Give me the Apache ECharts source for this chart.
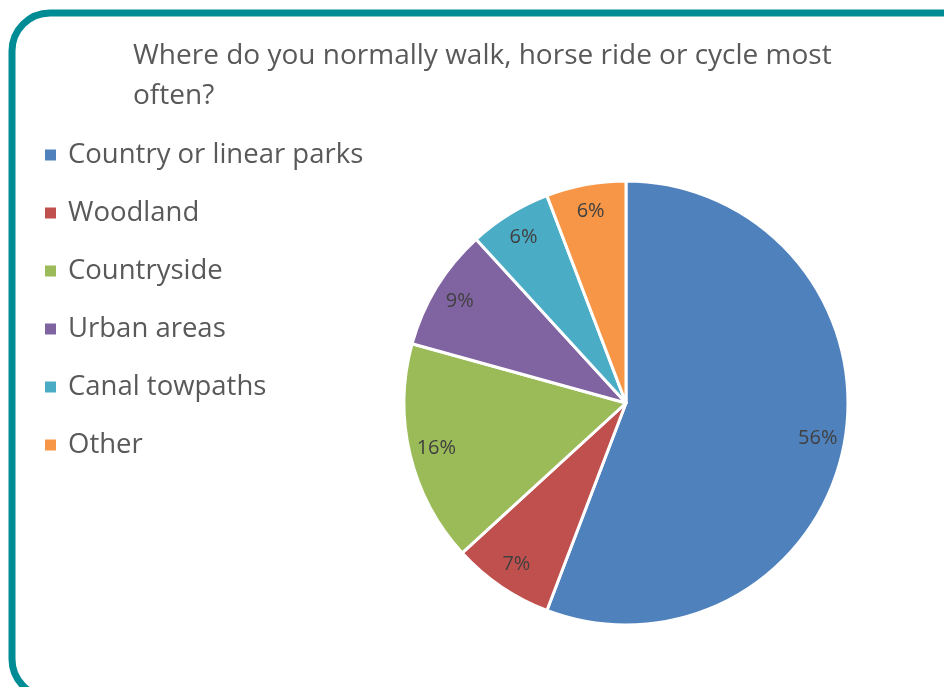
<!DOCTYPE html>
<html><head><meta charset="utf-8">
<script src="https://cdn.jsdelivr.net/npm/echarts@6/dist/echarts.min.js"></script>
<style>html,body{margin:0;padding:0;background:#fff}#c{width:944px;height:687px}</style>
</head><body><div id="c"></div>
<script>
const titleText = 'Where do you normally walk, horse ride or cycle most\noften?';
const categories = ['Country or linear parks','Woodland','Countryside','Urban areas','Canal towpaths','Other'];
const values = [55.8, 7.4, 16.1, 8.9, 6.0, 5.8];
const colors = ['#4F81BD','#C0504D','#9BBB59','#8064A2','#4BACC6','#F79646'];

const data = categories.map((n,i)=>({name:n, value:values[i], itemStyle:{color:colors[i]}}));
const chart = echarts.init(document.getElementById('c'), null, {renderer:'canvas'});
chart.setOption({
  animation:false,
  backgroundColor:'#fff',
  graphic:[{type:'rect', shape:{x:12,y:13,width:980,height:684,r:38}, style:{fill:'none',stroke:'#008C95',lineWidth:7}, z:-1}],
  title:{text:titleText, left:128, top:31, textStyle:{fontFamily:'Open Sans', fontSize:28, fontWeight:'normal', color:'#595959', lineHeight:40}},
  legend:{orient:'vertical', left:38, top:136, itemWidth:13, itemHeight:13, itemGap:30, icon:'rect',
    data:categories,
    textStyle:{fontFamily:'Open Sans', fontSize:27.5, color:'#595959', padding:[0,0,0,6]}},
  series:[
    {type:'pie', center:[626,403], radius:[0,222], startAngle:90, clockwise:true,
     data:data, label:{show:false}, labelLine:{show:false},
     itemStyle:{borderColor:'#fff', borderWidth:3}, emphasis:{disabled:true}},
    {type:'pie', center:[626,403], radius:[164,220], startAngle:90, clockwise:true, silent:true,
     data:categories.map((n,i)=>({name:n, value:values[i]})),
     itemStyle:{color:'rgba(0,0,0,0)', borderWidth:0},
     label:{show:true, position:'inside', formatter:p=>Math.round(p.value)+'%', fontFamily:'Open Sans', fontSize:20, color:'#404040'},
     labelLine:{show:false}, emphasis:{disabled:true}}
  ]
});
</script></body></html>
